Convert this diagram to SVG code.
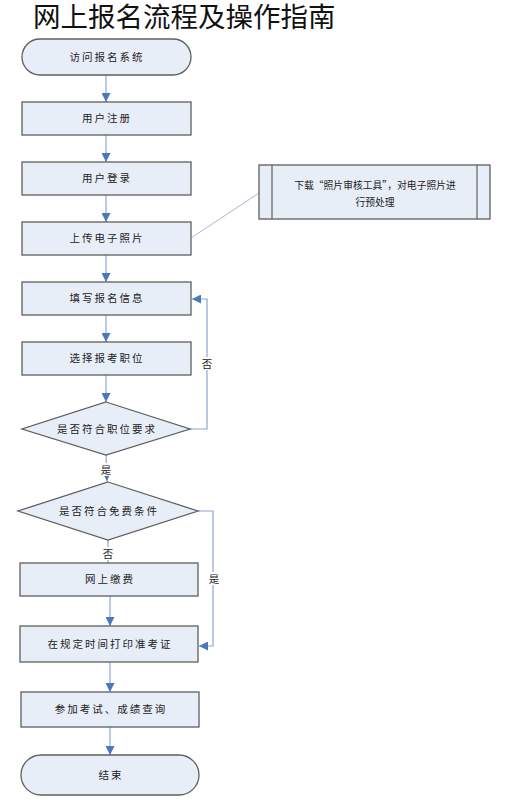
<svg xmlns="http://www.w3.org/2000/svg" width="523" height="805" viewBox="0 0 523 805">
<defs>
<style>
.n{fill:#e8eef8;stroke:#5f5f5f;stroke-width:1.3}
.t{font-family:"Noto Sans CJK SC","Liberation Sans",sans-serif;font-size:10.5px;fill:#222;text-anchor:middle;letter-spacing:2px}
.c{fill:none;stroke:#8ba8d2;stroke-width:1.2}
.lb{font-family:"Noto Sans CJK SC","Liberation Sans",sans-serif;font-size:10.5px;fill:#222;text-anchor:middle}
.bg{fill:#fff}
</style>
<marker id="a" viewBox="0 0 10 10" refX="10" refY="5" markerWidth="9" markerHeight="9" markerUnits="userSpaceOnUse" orient="auto">
<path d="M0,0 L10,5 L0,10 z" fill="#4a78b8"/>
</marker>
</defs>
<rect width="523" height="805" fill="#fff"/>
<text x="33" y="27" font-family="Noto Sans CJK SC,sans-serif" font-size="27.5" fill="#111">网上报名流程及操作指南</text>

<g id="connectors">
<line class="c" x1="106" y1="75" x2="106" y2="102" marker-end="url(#a)"/>
<line class="c" x1="106" y1="135" x2="106" y2="162" marker-end="url(#a)"/>
<line class="c" x1="106" y1="195" x2="106" y2="222" marker-end="url(#a)"/>
<line class="c" x1="106" y1="255" x2="106" y2="282" marker-end="url(#a)"/>
<line class="c" x1="106" y1="315" x2="106" y2="342" marker-end="url(#a)"/>
<line class="c" x1="106" y1="375" x2="106" y2="402" marker-end="url(#a)"/>
<polyline class="c" points="190,429 207,429 207,299 192,299" marker-end="url(#a)"/>
<line class="c" x1="106" y1="455" x2="107" y2="481" marker-end="url(#a)"/>
<line class="c" x1="108" y1="540" x2="108" y2="563"/>
<line class="c" x1="110" y1="596" x2="110" y2="626" marker-end="url(#a)"/>
<polyline class="c" points="198,511 213,511 213,646 199,646" marker-end="url(#a)"/>
<line class="c" x1="110" y1="662" x2="110" y2="692" marker-end="url(#a)"/>
<line class="c" x1="110" y1="727" x2="110" y2="755" marker-end="url(#a)"/>
<line x1="191" y1="238" x2="259" y2="193" stroke="#a9b9cf" stroke-width="1"/>
<rect class="bg" x="201" y="357" width="12" height="13"/>
<text class="lb" x="207" y="368">否</text>
<rect class="bg" x="100" y="463" width="12" height="13"/>
<text class="lb" x="106" y="474">是</text>
<rect class="bg" x="102" y="547" width="12" height="13"/>
<text class="lb" x="108" y="558">否</text>
<rect class="bg" x="208" y="572" width="12" height="13"/>
<text class="lb" x="214" y="583">是</text>
</g>

<g id="start">
<rect class="n" x="22" y="39" width="169" height="36" rx="18" ry="18"/>
<text class="t" x="107" y="61">访问报名系统</text>
</g>
<g id="register">
<rect class="n" x="22" y="102" width="169" height="33"/>
<text class="t" x="107" y="122">用户注册</text>
</g>
<g id="login">
<rect class="n" x="22" y="162" width="169" height="33"/>
<text class="t" x="107" y="182">用户登录</text>
</g>
<g id="upload">
<rect class="n" x="22" y="222" width="169" height="33"/>
<text class="t" x="107" y="242">上传电子照片</text>
</g>
<g id="note">
<rect class="n" x="259" y="165" width="231" height="54"/>
<line x1="272" y1="165" x2="272" y2="219" stroke="#5f5f5f" stroke-width="1.2"/>
<line x1="477" y1="165" x2="477" y2="219" stroke="#5f5f5f" stroke-width="1.2"/>
<text font-family="Noto Sans CJK SC,sans-serif" font-size="9.8" fill="#222" text-anchor="middle" x="375" y="189">下载“照片审核工具”，对电子照片进</text>
<text font-family="Noto Sans CJK SC,sans-serif" font-size="9.8" fill="#222" text-anchor="middle" x="375" y="206">行预处理</text>
</g>
<g id="fill">
<rect class="n" x="22" y="282" width="169" height="33"/>
<text class="t" x="107" y="302">填写报名信息</text>
</g>
<g id="select">
<rect class="n" x="22" y="342" width="169" height="33"/>
<text class="t" x="107" y="362">选择报考职位</text>
</g>
<g id="check1">
<polygon class="n" points="106,402 190,429 106,455 22,429"/>
<text class="t" x="107" y="433">是否符合职位要求</text>
</g>
<g id="check2">
<polygon class="n" points="108,482 198,511 108,540 18,511"/>
<text class="t" x="109" y="515">是否符合免费条件</text>
</g>
<g id="pay">
<rect class="n" x="20" y="563" width="178" height="33"/>
<text class="t" x="110" y="583">网上缴费</text>
</g>
<g id="print">
<rect class="n" x="20" y="626" width="178" height="36"/>
<text class="t" x="110" y="648">在规定时间打印准考证</text>
</g>
<g id="exam">
<rect class="n" x="21" y="692" width="178" height="35"/>
<text class="t" x="111" y="713">参加考试、成绩查询</text>
</g>
<g id="end">
<rect class="n" x="21" y="755" width="178" height="40" rx="20" ry="20"/>
<text class="t" x="111" y="779">结束</text>
</g>
</svg>
